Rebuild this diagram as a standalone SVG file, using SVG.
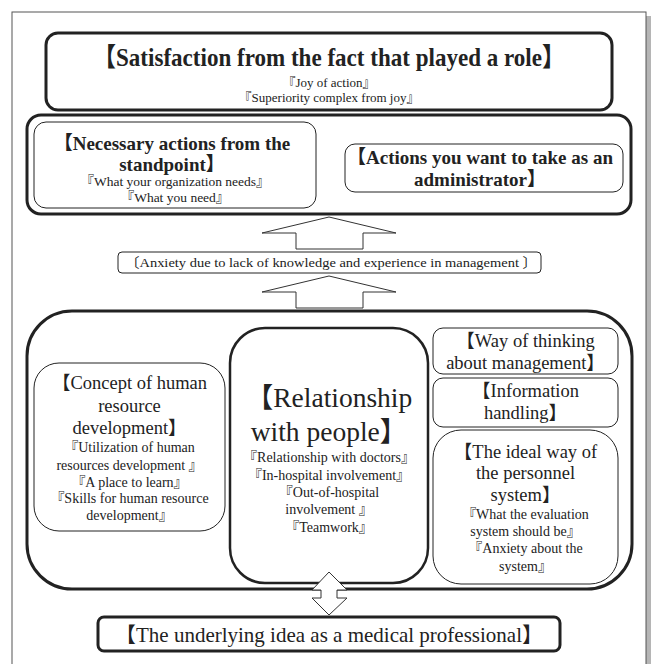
<svg xmlns="http://www.w3.org/2000/svg" width="653" height="664" viewBox="0 0 653 664">
<style>
text{fill:#222;text-anchor:middle;font-family:"Liberation Serif","Noto Sans CJK JP",serif}
.b{font-weight:bold}
.box{fill:#fff;stroke:#222}
.thick{stroke-width:3}
.mid{stroke-width:2.5}
.thin{stroke-width:1}
.arr{fill:#fff;stroke:#333;stroke-width:1}
</style>
<rect x="0" y="0" width="653" height="664" fill="#fff"/>
<rect x="646" y="16" width="5" height="648" fill="#b5b5b5"/>
<rect x="12" y="12" width="634" height="670" fill="#fff" stroke="#555" stroke-width="1"/>

<g id="connectors">
<polygon class="arr" points="329,217 396,233 363,233 363,249 296,249 296,233 262,233"/>
<polygon class="arr" points="329,276 396,292 363,292 363,308 296,308 296,292 262,292"/>
</g>

<g id="satisfaction">
<rect class="box thick" x="46" y="33" width="566" height="77" rx="12"/>
<text class="b" x="329" y="66" font-size="26" textLength="472" lengthAdjust="spacingAndGlyphs">【Satisfaction from the fact that played a role】</text>
<text x="329" y="87" font-size="13">『Joy of action』</text>
<text x="329" y="102" font-size="13">『Superiority complex from joy』</text>
</g>

<g id="actions">
<rect class="box thick" x="27" y="115" width="604" height="99" rx="14"/>
</g>
<g id="necessary">
<rect class="box thin" x="34" y="122" width="282" height="86" rx="12"/>
<text class="b" x="172" y="150" font-size="19">【Necessary actions from the</text>
<text class="b" x="172" y="171" font-size="19">standpoint】</text>
<text x="175" y="186" font-size="13.5">『What your organization needs』</text>
<text x="175" y="202" font-size="13.5">『What you need』</text>
</g>
<g id="administrator">
<rect class="box thin" x="345" y="144" width="278" height="48" rx="10"/>
<text class="b" x="480" y="164" font-size="19">【Actions you want to take as an</text>
<text class="b" x="480" y="186" font-size="19">administrator】</text>
</g>

<g id="anxiety">
<rect class="box thin" x="118" y="252" width="423" height="21" rx="4"/>
<text x="331" y="267" font-size="13.5" textLength="412" lengthAdjust="spacingAndGlyphs">〔Anxiety due to lack of knowledge and experience in management 〕</text>
</g>

<g id="factors">
<rect class="box thick" x="27" y="311" width="605" height="278" rx="45"/>
</g>

<g id="concept">
<rect class="box thin" x="34" y="363" width="191" height="168" rx="25"/>
<text x="129.5" y="389" font-size="18.5">【Concept of human</text>
<text x="129.5" y="412" font-size="18.5">resource</text>
<text x="129.5" y="434" font-size="18.5">development】</text>
<text x="129.5" y="452" font-size="14">『Utilization of human</text>
<text x="129.5" y="470" font-size="14">resources development 』</text>
<text x="129.5" y="487" font-size="14">『A place to learn』</text>
<text x="129.5" y="503" font-size="14">『Skills for human resource</text>
<text x="129.5" y="520" font-size="14">development』</text>
</g>

<g id="relationship">
<rect class="box mid" x="230" y="328" width="198" height="255" rx="35"/>
<text x="329" y="407" font-size="27.5">【Relationship</text>
<text x="329" y="441" font-size="27.5">with people】</text>
<text x="329" y="462" font-size="14">『Relationship with doctors』</text>
<text x="329" y="480" font-size="14">『In-hospital involvement』</text>
<text x="329" y="497" font-size="14">『Out-of-hospital</text>
<text x="329" y="514" font-size="14">involvement 』</text>
<text x="329" y="532" font-size="14">『Teamwork』</text>
</g>

<g id="management">
<rect class="box thin" x="433" y="328" width="185" height="46" rx="10"/>
<text x="525.5" y="347" font-size="18.5">【Way of thinking</text>
<text x="525.5" y="369" font-size="18.5">about management】</text>
</g>
<g id="information">
<rect class="box thin" x="433" y="378" width="185" height="49" rx="10"/>
<text x="525.5" y="397" font-size="18.5">【Information</text>
<text x="525.5" y="419" font-size="18.5">handling】</text>
</g>
<g id="personnel">
<rect class="box thin" x="433" y="430" width="185" height="154" rx="28"/>
<text x="525.5" y="458" font-size="18.5">【The ideal way of</text>
<text x="525.5" y="479" font-size="18.5">the personnel</text>
<text x="525.5" y="501" font-size="18.5">system】</text>
<text x="525.5" y="519" font-size="14">『What the evaluation</text>
<text x="525.5" y="536" font-size="14">system should be』</text>
<text x="525.5" y="553" font-size="14">『Anxiety about the</text>
<text x="525.5" y="571" font-size="14">system』</text>
</g>

<g id="connectors2">
<polygon class="arr" points="329,572 347,590 337,590 337,598 347,598 329,615 312,598 321,598 321,590 312,590"/>
</g>

<g id="medical">
<rect class="box thick" x="98" y="617" width="462" height="34" rx="6"/>
<text x="329" y="642" font-size="21">【The underlying idea as a medical professional】</text>
</g>
</svg>
